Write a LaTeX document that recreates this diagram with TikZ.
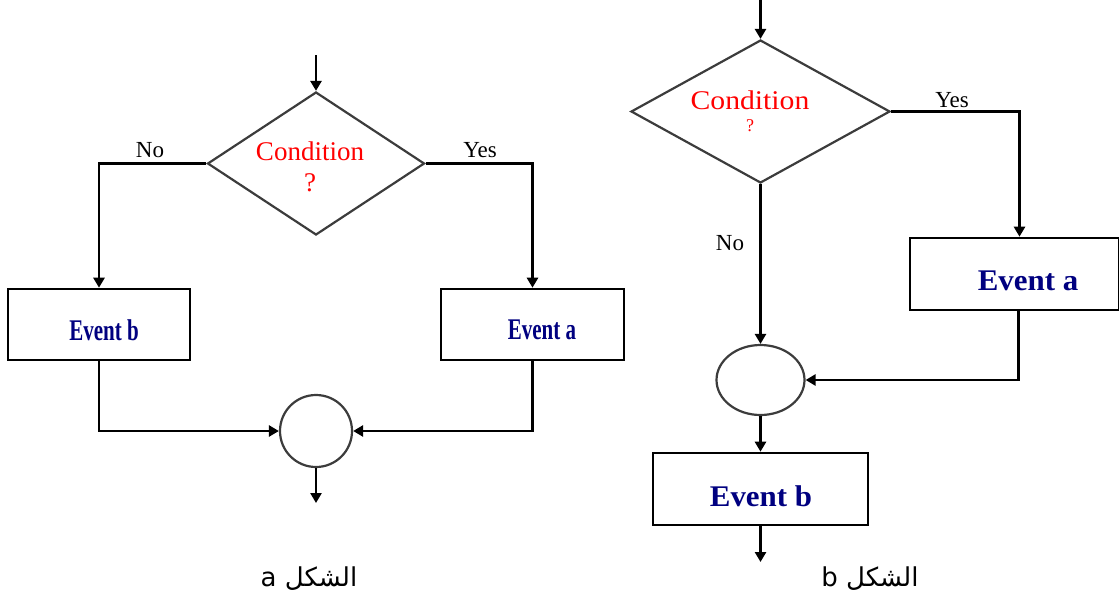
\documentclass[tikz,border=0pt]{standalone}
\usepackage{fontspec}
\setmainfont{Liberation Serif}
\newfontfamily\arabicfont[Script=Arabic]{DejaVu Sans}
\TeXXeTstate=1
\usetikzlibrary{shapes.geometric,arrows.meta}
\definecolor{evblue}{RGB}{0,0,128}
\definecolor{edgegray}{RGB}{60,60,60}
\begin{document}
\begin{tikzpicture}[x=1pt,y=-1pt,
  conn/.style={line width=2.6pt,-{Triangle[length=10pt,width=11pt]}},
  decision/.style={diamond,draw=edgegray,line width=2.2pt,inner sep=0pt},
  eventbox/.style={rectangle,draw=black,line width=2.6pt,inner sep=0pt},
  joint/.style={ellipse,draw=edgegray,line width=2.2pt,inner sep=0pt},
  condtext/.style={text=red,font=\fontsize{27}{29}\selectfont,align=center},
  evtext/.style={text=evblue,font=\fontsize{30}{32}\bfseries\selectfont},
  yn/.style={font=\fontsize{23}{25}\selectfont},
  captext/.style={font=\arabicfont\fontsize{26}{30}\selectfont}]
\useasboundingbox (0,0) rectangle (1119,598);
% ---------- diagram a ----------
\coordinate (inL) at (316,55);
\node[decision,minimum width=217pt,minimum height=143pt] (dL) at (316,163.5) {};
\node[condtext] (ctL) at (310,151) {Condition};
\node[condtext] (qL) at (310,183) {?};
\node[eventbox,minimum width=182pt,minimum height=71pt] (bL) at (99,324.5) {};
\node[evtext,xscale=0.7] (tbL) at (104,330) {Event b};
\node[eventbox,minimum width=183pt,minimum height=71pt] (aL) at (532.5,324.5) {};
\node[evtext,xscale=0.7] (taL) at (542,330) {Event a};
\node[joint,minimum width=72pt,minimum height=72pt] (cL) at (316,431) {};
\coordinate (outL) at (316,503);
\node[yn] (noL) at (150,150) {No};
\node[yn] (yesL) at (480,150) {Yes};
\draw[conn] (inL) -- (dL.north);
\draw[conn] (dL.west) -| (bL.north);
\draw[conn] (dL.east) -| (aL.north);
\draw[conn] (bL.south) |- (cL.west);
\draw[conn] (aL.south) |- (cL.east);
\draw[conn] (cL.south) -- (outL);
\node[captext] (capA) at (309,579) {\beginR الشكل a\endR};
% ---------- diagram b ----------
\coordinate (inR) at (760.5,0);
\node[decision,minimum width=259pt,minimum height=143pt] (dR) at (760.5,111.5) {};
\node[condtext,xscale=1.1] (ctR) at (750,100) {Condition};
\node[condtext,font=\fontsize{18}{20}\selectfont] (qR) at (750,126) {?};
\node[eventbox,minimum width=209pt,minimum height=72pt] (aR) at (1014.5,274) {};
\node[evtext,xscale=1.03] (taR) at (1028,281) {Event a};
\node[joint,minimum width=88pt,minimum height=70pt] (cR) at (760.5,380) {};
\node[eventbox,minimum width=215pt,minimum height=72pt] (bR) at (760.5,489) {};
\node[evtext,xscale=1.03] (tbR) at (761,496) {Event b};
\coordinate (outR) at (760.5,562);
\node[yn] (noR) at (730,243) {No};
\node[yn] (yesR) at (952,100) {Yes};
\draw[conn] (inR) -- (dR.north);
\draw[conn] (dR.east) -| ([xshift=5pt]aR.north);
\draw[conn] (dR.south) -- (cR.north);
\draw[conn] ([xshift=4pt]aR.south) |- (cR.east);
\draw[conn] (cR.south) -- (bR.north);
\draw[conn] (bR.south) -- (outR);
\node[captext] (capB) at (870,579) {\beginR الشكل  b\endR};
\end{tikzpicture}
\end{document}
